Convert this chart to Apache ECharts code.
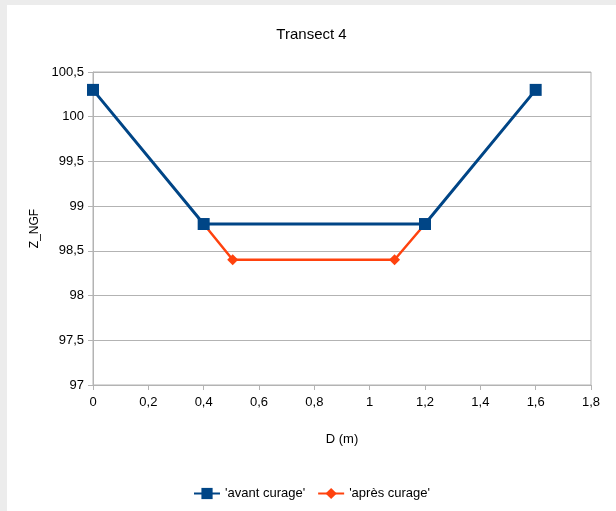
<!DOCTYPE html>
<html><head><meta charset="utf-8">
<script src="https://cdn.jsdelivr.net/npm/echarts@6/dist/echarts.min.js"></script>
<style>
html,body{margin:0;padding:0;background:#ececec;width:616px;height:511px;overflow:hidden;}
#c{position:absolute;left:7px;top:5px;width:609px;height:506px;background:#fff;}
</style></head><body>
<div id="c"></div>
<script>
const titleText = "Transect 4";
const xName = "D (m)";
const yName = "Z_NGF";
const avantName = "'avant curage'";
const apresName = "'après curage'";
const avantX = [0, 0.4, 1.2, 1.6];
const avantY = [100.3, 98.8, 98.8, 100.3];
const apresX = [0.4, 0.505, 1.09, 1.2];
const apresY = [98.8, 98.4, 98.4, 98.8];

const font = "'Liberation Sans', sans-serif";
const fmt = v => String(Math.round(v*10)/10).replace('.', ',');
const chart = echarts.init(document.getElementById('c'));
chart.setOption({
  animation:false,
  textStyle:{fontFamily:font},
  title:{text:titleText,left:'center',top:17,textStyle:{fontFamily:font,fontSize:15,fontWeight:'normal',color:'#000'}},
  grid:{left:86,right:25,top:67,bottom:126,show:true,borderColor:'#b3b3b3',borderWidth:1,containLabel:false},
  xAxis:{type:'value',min:0,max:1.8,interval:0.2,name:xName,nameLocation:'middle',nameGap:48,
    nameTextStyle:{fontFamily:font,fontSize:13,color:'#000'},
    axisLine:{show:true,lineStyle:{color:'#b3b3b3'}},
    axisTick:{show:true,length:5,lineStyle:{color:'#b3b3b3'}},
    axisLabel:{formatter:fmt,fontFamily:font,fontSize:13,color:'#000',margin:11},
    splitLine:{show:false}},
  yAxis:{type:'value',min:97,max:100.5,interval:0.5,name:yName,nameLocation:'middle',nameGap:47,
    nameTextStyle:{fontFamily:font,fontSize:12,color:'#000'},
    axisLine:{show:true,lineStyle:{color:'#b3b3b3'}},
    axisTick:{show:true,length:5,lineStyle:{color:'#b3b3b3'}},
    axisLabel:{formatter:fmt,fontFamily:font,fontSize:13,color:'#000',margin:9},
    splitLine:{show:true,lineStyle:{color:'#b3b3b3'}}},
  legend:{bottom:6,left:'center',itemWidth:26,itemHeight:14,itemGap:12,
    textStyle:{fontFamily:font,fontSize:13,color:'#000'},
    data:[avantName,apresName]},
  series:[
    {name:avantName,type:'line',data:avantX.map((x,i)=>[x,avantY[i]]),
     symbol:'rect',symbolSize:12,lineStyle:{color:'#004586',width:3},itemStyle:{color:'#004586'},z:2},
    {name:apresName,type:'line',data:apresX.map((x,i)=>[x,apresY[i]]),
     symbol:'diamond',symbolSize:11,lineStyle:{color:'#ff420e',width:2.5},itemStyle:{color:'#ff420e'},z:1}
  ]
});
</script></body></html>
